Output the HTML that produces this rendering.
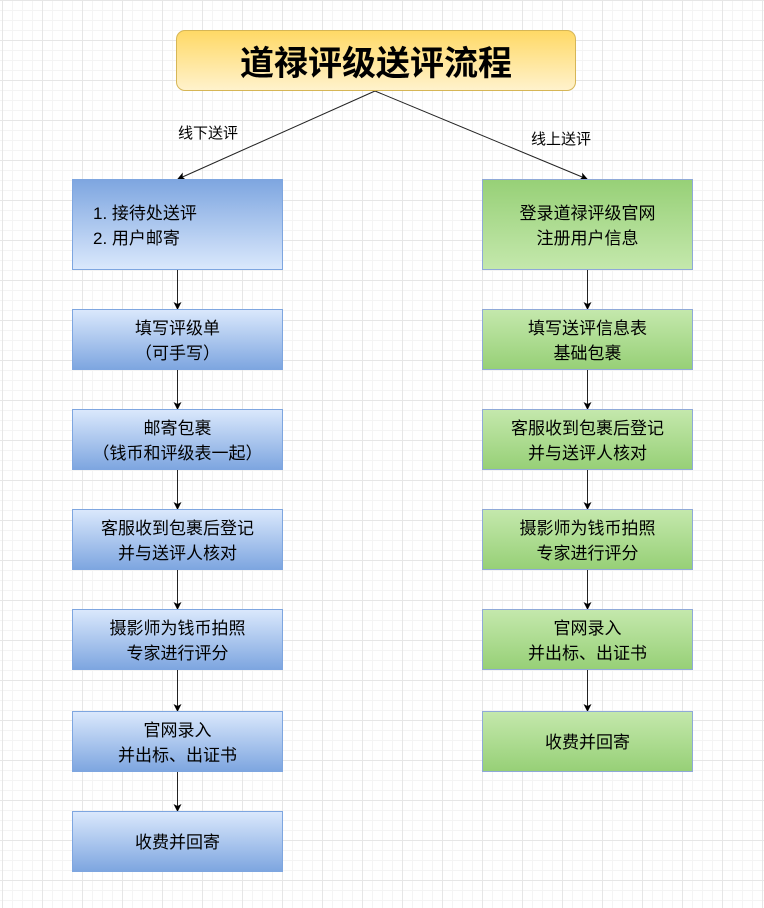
<!DOCTYPE html>
<html><head><meta charset="utf-8"><style>
body{margin:0;width:764px;height:908px;position:relative;overflow:hidden;background-color:#fff;
background-image:linear-gradient(#e6e6e6 1px,transparent 1px),linear-gradient(90deg,#e6e6e6 1px,transparent 1px),linear-gradient(#f4f4f4 1px,transparent 1px),linear-gradient(90deg,#f4f4f4 1px,transparent 1px);
background-size:40px 40px,40px 40px,10px 10px,10px 10px;background-position:0 0,2px 0,0 0,2px 0;
font-family:"Liberation Sans","Noto Sans CJK SC",sans-serif;}
.b{position:absolute;box-sizing:border-box;display:flex;align-items:center;justify-content:center;text-align:center;font-size:17px;line-height:25px;color:#000;padding-top:2px;}
.bl{border:1px solid #7ea6e0;background:linear-gradient(#dae8fc,#7ea6e0);}
.g{border:1px solid #8fa9d8;background:linear-gradient(#c4e8ac,#97d077);}
.t{position:absolute;left:176px;top:30px;width:400px;height:61px;box-sizing:border-box;border:1px solid #d6b656;border-radius:9px;background:linear-gradient(#ffd966,#fff2cc);display:flex;align-items:center;justify-content:center;font-size:34px;font-weight:bold;}
.lbl{position:absolute;font-size:15px;}
</style></head><body>
<svg width="764" height="908" style="position:absolute;left:0;top:0">
<defs><marker id="a" markerWidth="8" markerHeight="8" refX="7" refY="4" orient="auto" markerUnits="userSpaceOnUse"><path d="M0,0 L8,4 L0,8 L2,4z" fill="#000"/></marker></defs>
<g stroke="#222" stroke-width="1" fill="none" marker-end="url(#a)">
<line x1="375" y1="91" x2="178" y2="179"/>
<line x1="375" y1="91" x2="587" y2="179"/>
<line x1="177.5" y1="269" x2="177.5" y2="309"/>
<line x1="177.5" y1="369" x2="177.5" y2="409"/>
<line x1="177.5" y1="469" x2="177.5" y2="509"/>
<line x1="177.5" y1="569" x2="177.5" y2="609"/>
<line x1="177.5" y1="669" x2="177.5" y2="711"/>
<line x1="177.5" y1="771" x2="177.5" y2="811"/>
<line x1="587.5" y1="269" x2="587.5" y2="309"/>
<line x1="587.5" y1="369" x2="587.5" y2="409"/>
<line x1="587.5" y1="469" x2="587.5" y2="509"/>
<line x1="587.5" y1="569" x2="587.5" y2="609"/>
<line x1="587.5" y1="669" x2="587.5" y2="711"/>
</g></svg>
<div class="t">道禄评级送评流程</div>
<div class="lbl" style="left:178px;top:122px">线下送评</div>
<div class="lbl" style="left:531px;top:128px">线上送评</div>
<div class="b bl" style="left:72px;top:179px;width:211px;height:91px;background:linear-gradient(#7ea6e0,#dae8fc);justify-content:flex-start;padding-left:20px;text-align:left">1. 接待处送评<br>2. 用户邮寄</div>
<div class="b bl" style="left:72px;top:309px;width:211px;height:61px">填写评级单<br>（可手写）</div>
<div class="b bl" style="left:72px;top:409px;width:211px;height:61px">邮寄包裹<br>（钱币和评级表一起）</div>
<div class="b bl" style="left:72px;top:509px;width:211px;height:61px">客服收到包裹后登记<br>并与送评人核对</div>
<div class="b bl" style="left:72px;top:609px;width:211px;height:61px">摄影师为钱币拍照<br>专家进行评分</div>
<div class="b bl" style="left:72px;top:711px;width:211px;height:61px">官网录入<br>并出标、出证书</div>
<div class="b bl" style="left:72px;top:811px;width:211px;height:61px">收费并回寄</div>
<div class="b g" style="left:482px;top:179px;width:211px;height:91px;background:linear-gradient(#97d077,#c4e8ac)">登录道禄评级官网<br>注册用户信息</div>
<div class="b g" style="left:482px;top:309px;width:211px;height:61px">填写送评信息表<br>基础包裹</div>
<div class="b g" style="left:482px;top:409px;width:211px;height:61px">客服收到包裹后登记<br>并与送评人核对</div>
<div class="b g" style="left:482px;top:509px;width:211px;height:61px">摄影师为钱币拍照<br>专家进行评分</div>
<div class="b g" style="left:482px;top:609px;width:211px;height:61px">官网录入<br>并出标、出证书</div>
<div class="b g" style="left:482px;top:711px;width:211px;height:61px">收费并回寄</div>
</body></html>
